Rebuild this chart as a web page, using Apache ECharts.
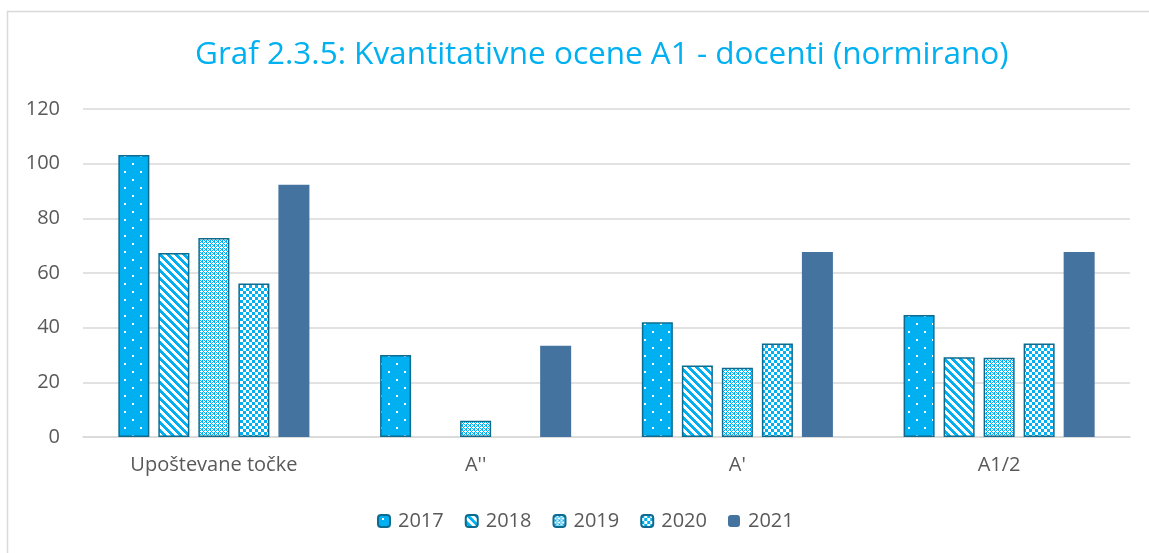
<!DOCTYPE html>
<html>
<head>
<meta charset="utf-8">
<script src="https://cdn.jsdelivr.net/npm/echarts@6/dist/echarts.min.js"></script>
<style>
  html, body { margin: 0; padding: 0; background: #fff; }
  #chart { width: 1149px; height: 553px; }
</style>
</head>
<body>
<div id="chart"></div>
<script>
const categories = ["Upoštevane točke", "A''", "A'", "A1/2"];
const years = ["2017", "2018", "2019", "2020", "2021"];
const v2017 = [103.2, 30.0, 42.0, 44.6];
const v2018 = [67.3, "-", 26.2, 29.2];
const v2019 = [72.8, 5.9, 25.3, 29.0];
const v2020 = [56.2, "-", 34.2, 34.2];
const v2021 = [92.3, 33.4, 67.7, 67.7];
const yTicks = [0, 20, 40, 60, 80, 100, 120];

const BLUE = "#00b0f0";
const EDGE = "#0d6b8f";

// small canvas tiles for the Excel-like fill patterns
function tile(w, h, draw) {
  const c = document.createElement("canvas");
  c.width = w;
  c.height = h;
  const ctx = c.getContext("2d");
  draw(ctx);
  return { image: c, repeat: "repeat" };
}

const dots = tile(16, 16, (ctx) => {
  ctx.fillStyle = BLUE;
  ctx.fillRect(0, 0, 16, 16);
  ctx.fillStyle = "#ffffff";
  ctx.fillRect(4, 3, 2, 2);
  ctx.fillRect(12, 11, 2, 2);
});

const stripes = tile(8, 8, (ctx) => {
  ctx.fillStyle = "#ffffff";
  ctx.fillRect(0, 0, 8, 8);
  ctx.fillStyle = BLUE;
  for (let y = 0; y < 8; y++) {
    for (let x = 0; x < 8; x++) {
      if (((x - y + 16) % 8) < 4) ctx.fillRect(x, y, 1, 1);
    }
  }
});

const fine = tile(4, 4, (ctx) => {
  ctx.fillStyle = "#ffffff";
  ctx.fillRect(0, 0, 4, 4);
  ctx.fillStyle = BLUE;
  ctx.fillRect(0, 0, 1, 1);
  ctx.fillRect(2, 0, 1, 1);
  ctx.fillRect(1, 1, 2, 1);
  ctx.fillRect(0, 2, 1, 1);
  ctx.fillRect(2, 2, 1, 1);
  ctx.fillRect(3, 3, 1, 1);
});

const checker = tile(6, 6, (ctx) => {
  ctx.fillStyle = "#ffffff";
  ctx.fillRect(0, 0, 6, 6);
  ctx.fillStyle = BLUE;
  ctx.fillRect(0, 0, 3, 3);
  ctx.fillRect(3, 3, 3, 3);
});

const fills = [dots, stripes, fine, checker, "#44739f"];
const values = [v2017, v2018, v2019, v2020, v2021];

const chart = echarts.init(document.getElementById("chart"));
const font = "'Open Sans', Lato, sans-serif";

chart.setOption({
  animation: false,
  backgroundColor: "#ffffff",
  graphic: [
    {
      type: "rect",
      shape: { x: 7.5, y: 11.5, width: 1160, height: 600 },
      style: { fill: "none", stroke: "#d9d9d9", lineWidth: 1.5 },
      silent: true,
    },
  ],
  title: {
    text: "Graf 2.3.5: Kvantitativne ocene A1 - docenti (normirano)",
    left: 190,
    top: 34,
    textStyle: {
      color: "#00b0f0",
      fontFamily: font,
      fontSize: 31.5,
      fontWeight: "normal",
    },
  },
  legend: {
    data: years,
    bottom: 17,
    left: 372,
    itemWidth: 12,
    itemHeight: 12,
    itemGap: 21,
    textStyle: {
      color: "#595959",
      fontFamily: font,
      fontSize: 20,
      padding: [0, 0, 0, 3],
    },
  },
  grid: { left: 83, right: 19, top: 109, bottom: 116 },
  xAxis: {
    type: "category",
    data: categories,
    axisLine: { lineStyle: { color: "#d9d9d9", width: 1.5 } },
    axisTick: { show: false },
    axisLabel: {
      color: "#595959",
      fontFamily: font,
      fontSize: 20,
      margin: 18,
    },
  },
  yAxis: {
    type: "value",
    min: yTicks[0],
    max: yTicks[yTicks.length - 1],
    interval: 20,
    axisLine: { show: false },
    axisTick: { show: false },
    splitLine: { lineStyle: { color: "#d9d9d9", width: 1.5 } },
    axisLabel: {
      color: "#595959",
      fontFamily: font,
      fontSize: 20,
      margin: 23,
    },
  },
  series: years.map((y, i) => ({
    name: y,
    type: "bar",
    data: values[i],
    barGap: "29%",
    barCategoryGap: "27%",
    itemStyle: {
      color: fills[i],
      borderColor: i < 4 ? EDGE : "#44739f",
      borderWidth: i < 4 ? 1.5 : 0,
    },
  })),
});
</script>
</body>
</html>
